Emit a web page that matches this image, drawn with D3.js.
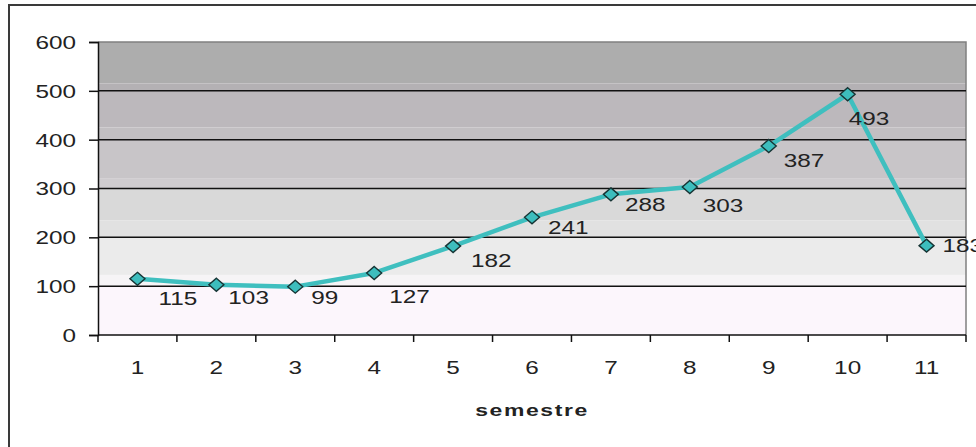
<!DOCTYPE html>
<html>
<head>
<meta charset="utf-8">
<script src="https://cdn.jsdelivr.net/npm/d3@7"></script>
<style>
  html, body { margin: 0; padding: 0; background: #fff; }
  svg { display: block; }
  text { font-family: "Liberation Sans", Arial, sans-serif; fill: #222; }
</style>
</head>
<body>
<svg id="chart" width="976" height="447"></svg>
<script>
// ---- data ----
const categories = ["1","2","3","4","5","6","7","8","9","10","11"];
const values = [115, 103, 99, 127, 182, 241, 288, 303, 387, 493, 183];
const yTicks = [0, 100, 200, 300, 400, 500, 600];
const xTitle = "semestre";
// label offsets (relative to each point, px)
const labelDx = [21, 12, 16, 15, 18, 16, 14, 13, 15, 1, 16];
const labelDy = [20, 13, 11, 24, 14, 10, 10, 18, 15, 24, 0];

// background bands (value ranges -> colour)
const bandStops = [
  [600, 515, "#adadad"], [515, 500, "#b4b1b4"],
  [500, 425, "#bcb8bc"], [425, 400, "#c2bfc2"],
  [400, 320, "#c8c5c8"], [320, 300, "#cfcccf"],
  [300, 235, "#d9d9d9"], [235, 200, "#e1e1e1"],
  [200, 123, "#ebebeb"], [123, 100, "#f6f4f6"],
  [100, 0, "#fcf6fc"]
];

(function () {
const SX = 1.35; // horizontal text stretch of the reference
const svg = d3.select("#chart");
const pLeft = 98, pRight = 966, pTop = 42, pBottom = 335;

const x = d3.scaleBand().domain(categories).range([pLeft, pRight]).padding(0);
const y = d3.scaleLinear().domain([0, 600]).range([pBottom, pTop]);

// outer frame
svg.append("rect").attr("x", 9).attr("y", 5).attr("width", 990).attr("height", 460)
  .attr("fill", "#fff").attr("stroke", "#3a3a3a").attr("stroke-width", 2);

// plot bands
svg.append("g").selectAll("rect").data(bandStops).join("rect")
  .attr("x", pLeft).attr("width", pRight - pLeft)
  .attr("y", d => y(d[0])).attr("height", d => y(d[1]) - y(d[0]))
  .attr("fill", d => d[2]);

// plot border (top/right)
svg.append("path")
  .attr("d", `M${pLeft},${pTop}H${pRight}V${pBottom}`)
  .attr("fill", "none").attr("stroke", "#808080").attr("stroke-width", 1.5);

// gridlines
svg.append("g").selectAll("line").data(yTicks.filter(v => v > 0 && v < 600)).join("line")
  .attr("x1", pLeft).attr("x2", pRight)
  .attr("y1", d => y(d)).attr("y2", d => y(d))
  .attr("stroke", "#111").attr("stroke-width", 1.5);

// y axis
const yAxis = svg.append("g").attr("transform", `translate(${pLeft},0)`)
  .call(d3.axisLeft(y).tickValues(yTicks).tickSize(9).tickPadding(13).tickFormat(d3.format("d")));
yAxis.select(".domain").attr("stroke", "#111").attr("stroke-width", 1.5);
yAxis.selectAll(".tick line").attr("stroke", "#111").attr("stroke-width", 1.5);
yAxis.selectAll(".tick text").each(function() {
  const t = d3.select(this);
  const tx = +t.attr("x");
  t.attr("x", 0).attr("dy", "0.36em")
   .attr("transform", `translate(${tx},0) scale(${SX},1)`)
   .style("font-size", "18px").style("font-family", "'Liberation Sans', Arial, sans-serif").attr("fill", "#222");
});

// x axis
const boundaries = categories.map(c => x(c)).concat([x(categories[categories.length - 1]) + x.bandwidth()]);
const xg = svg.append("g");
xg.append("line").attr("x1", pLeft).attr("x2", pRight).attr("y1", pBottom).attr("y2", pBottom)
  .attr("stroke", "#111").attr("stroke-width", 1.5);
xg.selectAll("line.tk").data(boundaries).join("line").attr("class", "tk")
  .attr("x1", d => d).attr("x2", d => d).attr("y1", pBottom).attr("y2", pBottom + 7)
  .attr("stroke", "#111").attr("stroke-width", 1.5);
xg.selectAll("text").data(categories).join("text")
  .attr("text-anchor", "middle")
  .attr("transform", d => `translate(${x(d) + x.bandwidth() / 2},${pBottom + 39}) scale(${SX},1)`)
  .style("font-size", "18px")
  .text(d => d);

// x title
svg.append("text")
  .attr("text-anchor", "middle")
  .attr("transform", `translate(${(pLeft + pRight) / 2},${pBottom + 81}) scale(${SX},1)`)
  .style("font-size", "17px").style("font-weight", "bold").style("letter-spacing", "1.2px")
  .text(xTitle);

// line
const cx = d => x(d.c) + x.bandwidth() / 2;
const pts = categories.map((c, i) => ({ c, v: values[i], i }));
svg.append("path").datum(pts)
  .attr("d", d3.line().x(cx).y(d => y(d.v)))
  .attr("fill", "none").attr("stroke", "#3fbfbf").attr("stroke-width", 4.5)
  .attr("stroke-linejoin", "round");

// markers
svg.append("g").selectAll("path").data(pts).join("path")
  .attr("transform", d => `translate(${cx(d)},${y(d.v)})`)
  .attr("d", "M0,-6.5L7.5,0L0,6.5L-7.5,0Z")
  .attr("fill", "#3dbdbd").attr("stroke", "#163434").attr("stroke-width", 1.4);

// value labels
svg.append("g").selectAll("text").data(pts).join("text")
  .attr("text-anchor", "start")
  .attr("dy", "0.36em")
  .attr("transform", d => `translate(${cx(d) + labelDx[d.i]},${y(d.v) + labelDy[d.i]}) scale(${SX},1)`)
  .style("font-size", "18px")
  .text(d => d.v);
})();
</script>
</body>
</html>
